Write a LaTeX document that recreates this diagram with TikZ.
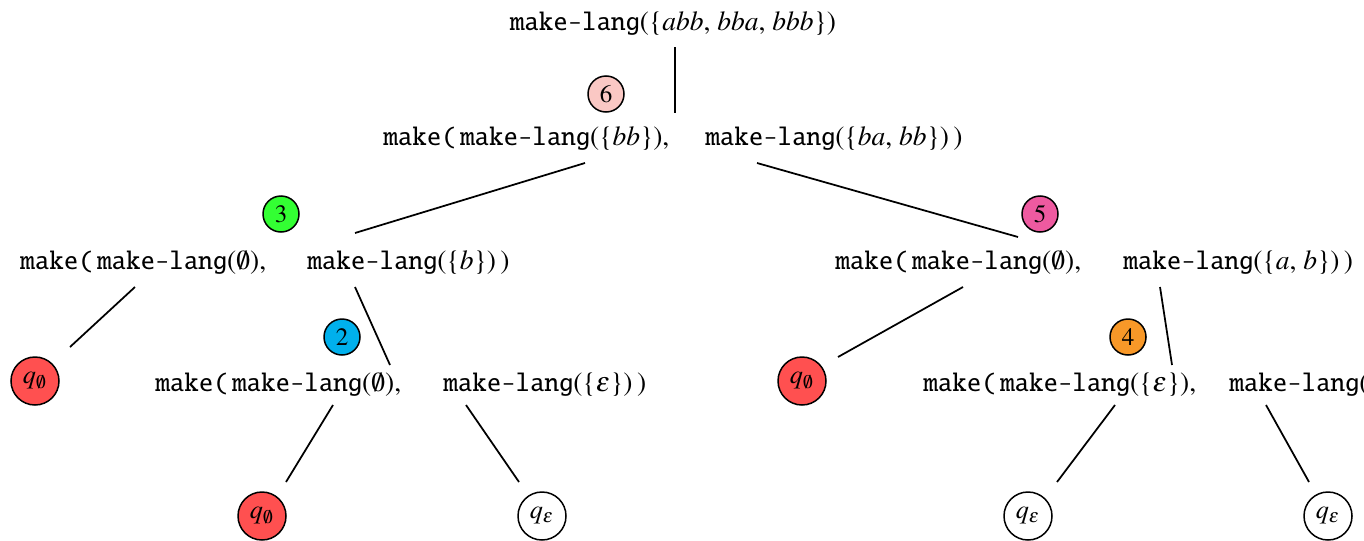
\documentclass[tikz,border=0pt]{standalone}
\usepackage[T1]{fontenc}
\usepackage{mathptmx}
\renewcommand{\ttdefault}{txtt}
\usepackage{tikz}
\usetikzlibrary{calc}
\definecolor{num-six}{RGB}{250, 200, 196}
\definecolor{num-three}{RGB}{51, 255, 51}
\definecolor{num-five}{RGB}{238, 90, 160}
\definecolor{num-two}{RGB}{0, 176, 236}
\definecolor{num-four}{RGB}{248, 152, 40}
\definecolor{dead-red}{RGB}{255, 80, 80}

\newcommand{\mk}{\texttt{make(}\,}
\newcommand{\ml}[1]{\texttt{make-lang}(#1)}

\begin{document}
\begin{tikzpicture}[
    x=0.4pt, y=-0.4pt,
    term/.style={inner sep=0pt, font=\fontsize{11}{13}\selectfont},
    badge/.style={circle, draw, line width=0.6pt, inner sep=0pt,
                  minimum size=14.4pt, font=\fontsize{10}{12}\selectfont},
    state/.style={circle, draw, line width=0.6pt, inner sep=0pt,
                  minimum size=19.2pt, font=\fontsize{10.5}{12}\selectfont},
    edge/.style={line width=0.7pt}
  ]
    \useasboundingbox (0,0) rectangle (1364,540);
    \clip (0,0) rectangle (1364,540);

    % rows of the unfolding
    \node[term, anchor=base] (root) at (673,30) {\ml{\{$abb$, $bba$, $bbb$\}}};
    \node[term, anchor=base west] (n6l) at (383,145) {\mk\ml{\{$bb$\}},};
    \node[term, anchor=base west] (n6r) at (705,145) {\ml{\{$ba$, $bb$\}}\,)};

    \node[term, anchor=base west] (n3l) at (20,269)  {\mk\ml{$\emptyset$},};
    \node[term, anchor=base west] (n3r) at (307,269) {\ml{\{$b$\}}\,)};
    \node[term, anchor=base west] (n5l) at (835,269) {\mk\ml{$\emptyset$},};
    \node[term, anchor=base west] (n5r) at (1123,269) {\ml{\{$a$, $b$\}}\,)};

    \node[term, anchor=base west] (n2l) at (155,391) {\mk\ml{$\emptyset$},};
    \node[term, anchor=base west] (n2r) at (443,391) {\ml{\{$\varepsilon$\}}\,)};
    \node[term, anchor=base west] (n4l) at (923,391) {\mk\ml{\{$\varepsilon$\}},};
    \node[term, anchor=base west] (n4r) at (1229,391) {\ml{\{$\varepsilon$\}}\,)};

    % order of evaluation
    \node[badge, fill=num-six]   (b6) at (606,94)   {6};
    \node[badge, fill=num-three] (b3) at (281,214)  {3};
    \node[badge, fill=num-five]  (b5) at (1040,214) {5};
    \node[badge, fill=num-two]   (b2) at (342,337)  {2};
    \node[badge, fill=num-four]  (b4) at (1128,337) {4};

    % leaves
    \node[state, fill=dead-red] (q1) at (35,381)   {$q_\emptyset$};
    \node[state, fill=dead-red] (q2) at (262,516)  {$q_\emptyset$};
    \node[state]                (q3) at (542,516)  {$q_\varepsilon$};
    \node[state, fill=dead-red] (q4) at (802,381)  {$q_\emptyset$};
    \node[state]                (q5) at (1028,516) {$q_\varepsilon$};
    \node[state]                (q6) at (1328,516) {$q_\varepsilon$};

    \draw[edge] ($(root.base)+(2,17)$) -- ($(n6r.base west)+(-30,-32)$);
    \draw[edge] ($(n6l.base west)+(202,18)$) -- ($(n3r.base west)+(48,-36)$);
    \draw[edge] ($(n6r.base west)+(52,18)$) -- ($(n5l.base west)+(183,-32)$);
    \draw[edge] ($(n3l.base west)+(115,18)$) -- ($(q1)+(35,-34)$);
    \draw[edge] ($(n3r.base west)+(48,18)$) -- ($(n2r.base west)+(-53,-26)$);
    \draw[edge] ($(n2l.base west)+(178,14)$) -- ($(q2)+(24,-34)$);
    \draw[edge] ($(n2r.base west)+(23,14)$) -- ($(q3)+(-23,-34)$);
    \draw[edge] ($(n5l.base west)+(128,18)$) -- ($(q4)+(36,-24)$);
    \draw[edge] ($(n5r.base west)+(37,18)$) -- ($(n4r.base west)+(-57,-26)$);
    \draw[edge] ($(n4l.base west)+(192,14)$) -- ($(q5)+(29,-34)$);
    \draw[edge] ($(n4r.base west)+(37,14)$) -- ($(q6)+(-19,-34)$);
\end{tikzpicture}
\end{document}
